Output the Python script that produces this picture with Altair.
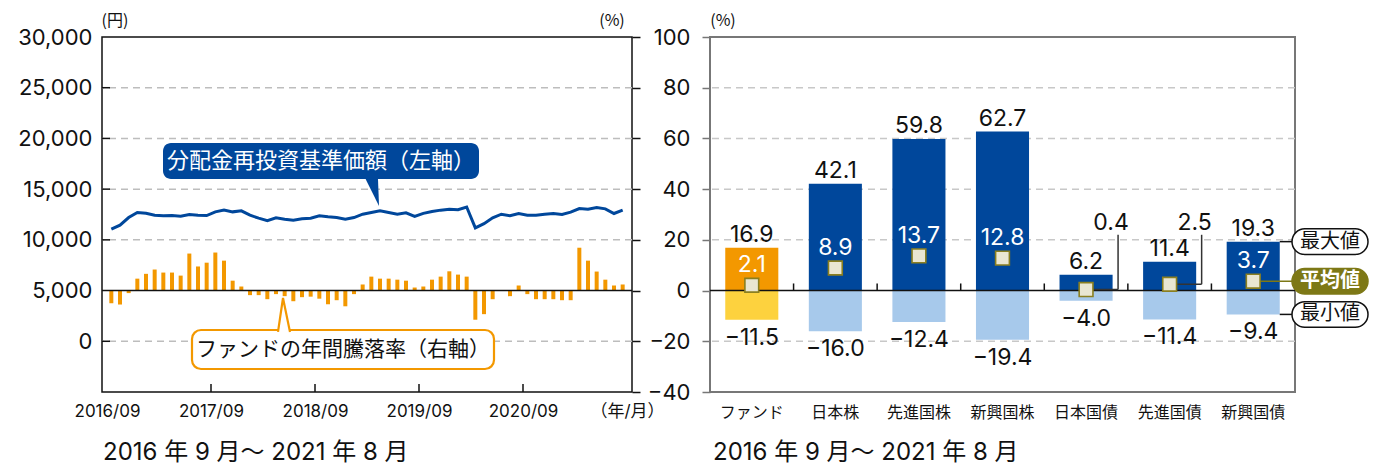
import json
import altair as alt
import pandas as pd

# ---------------- Left panel data ----------------
nav = [11050, 11450, 12200, 12700, 12630, 12430, 12370, 12400, 12340, 12500,
       12430, 12400, 12760, 12930, 12760, 12860, 12430, 12140, 11880, 12170,
       12040, 11940, 12070, 12140, 12370, 12270, 12200, 12040, 12200, 12530,
       12700, 12860, 12700, 12530, 12660, 12320, 12610, 12800, 12930, 13010,
       12980, 13240, 11180, 11600, 12170, 12530, 12370, 12600, 12430, 12430,
       12530, 12600, 12500, 12730, 13090, 13030, 13190, 13060, 12600, 12930]
ret = [-5.0, -5.5, -1.0, 4.7, 6.6, 8.3, 7.1, 7.1, 5.9, 14.6,
       9.5, 11.0, 15.0, 11.8, 3.9, 1.6, -1.8, -1.8, -3.4, -1.4,
       -2.2, -4.2, -2.6, -2.4, -3.2, -5.4, -3.8, -6.2, -1.4, 2.4,
       5.5, 4.7, 4.7, 4.3, 3.9, 1.2, 1.6, 4.3, 5.5, 7.6,
       6.3, 5.5, -11.5, -9.3, -3.4, 0.0, -2.2, 2.0, -1.4, -3.4,
       -3.4, -3.4, -3.8, -3.8, 16.9, 11.8, 7.5, 4.3, 2.0, 2.4]
x_ticks = [0, 12, 24, 36, 48, 60]
x_tick_labels = ["2016/09", "2017/09", "2018/09", "2019/09", "2020/09", "（年/月）"]
yen_ticks = [0, 5000, 10000, 15000, 20000, 25000, 30000]
yen_grid = [0, 10000, 15000, 20000, 25000]
pct_ticks = [-40, -20, 0, 20, 40, 60, 80, 100]
pct_grid = [-20, 20, 40, 60, 80]

# ---------------- Right panel data ----------------
cats = ["ファンド", "日本株", "先進国株", "新興国株", "日本国債", "先進国債", "新興国債"]
max_v = [16.9, 42.1, 59.8, 62.7, 6.2, 11.4, 19.3]
avg_v = [2.1, 8.9, 13.7, 12.8, 0.4, 2.5, 3.7]
min_v = [-11.5, -16.0, -12.4, -19.4, -4.0, -11.4, -9.4]
avg_inside = [True, True, True, True, False, False, True]
period = "2016 年 9 月〜 2021 年 8 月"

# ---------------- style ----------------
JP = "Noto Sans CJK JP"
NUM = "Inter, Noto Sans CJK JP"
TXT = "#111111"
NAVY = "#00479b"
ORANGE = "#f39800"
YELLOW = "#fdd23e"
LIGHT = "#a7c9eb"
OLIVE = "#7d7816"
BEIGE = "#e9e6d2"
GRID = "#bdbdbd"
W1, W2, H = 530, 585, 355

# ================= LEFT PANEL =================
ldf = pd.DataFrame({"m": [i + 0.5 for i in range(len(nav))], "nav": nav, "ret": ret})

x_axis = alt.Axis(values=x_ticks, ticks=False, domain=False, grid=False,
                  labelExpr=json.dumps(x_tick_labels, ensure_ascii=False) + "[round(datum.value/12)]",
                  labelFont=NUM, labelFontSize=17, labelPadding=11, labelColor=TXT,
                  labelFlush=False, labelOverlap=False, title=None)


def xL(f):
    return alt.X(f"{f}:Q", scale=alt.Scale(domain=[0, 60], nice=False, zero=False), axis=x_axis)


yen_axis = alt.Axis(orient="left", values=yen_ticks, ticks=False, domain=False,
                    labelExpr="format(datum.value, ',')",
                    grid=False, labelFont=NUM, labelFontSize=22, labelPadding=10,
                    labelColor=TXT, labelFlush=False, labelOverlap=False, title=None)
pctL_axis = alt.Axis(orient="right", values=pct_ticks, labels=False, ticks=True, tickSize=8,
                     tickColor=TXT, tickWidth=1.5, domain=False, grid=False, title=None)


def yYen(f):
    return alt.Y(f"{f}:Q", scale=alt.Scale(domain=[-5000, 30000], nice=False, zero=False), axis=yen_axis)


def yPctL(f):
    return alt.Y(f"{f}:Q", scale=alt.Scale(domain=[-40, 100], nice=False, zero=False), axis=pctL_axis)


gdf = pd.DataFrame({"v": yen_grid})
grid_l = alt.Chart(gdf).mark_rule(color=GRID, strokeWidth=1.5, strokeDash=[7, 5]).encode(y=yYen("v"))
lticks = alt.Chart(gdf).mark_rule(color=TXT, strokeWidth=1.5).encode(
    y=yYen("v"), x=alt.value(0), x2=alt.value(8))
nav_line = alt.Chart(ldf).mark_line(color=NAVY, strokeWidth=3).encode(x=xL("m"), y=yYen("nav"))
yen_group = alt.layer(grid_l, lticks, nav_line)

bars = alt.Chart(ldf).mark_bar(size=4, color=ORANGE).encode(x=xL("m"), y=yPctL("ret"))
zero_l = alt.Chart(pd.DataFrame({"v": [0]})).mark_rule(color=TXT, strokeWidth=1.5).encode(y=yPctL("v"))
pct_group = alt.layer(bars, zero_l)

bticks = alt.Chart(pd.DataFrame({"m": x_ticks[1:-1]})).mark_rule(color=TXT, strokeWidth=1.5).encode(
    x=xL("m"), y=alt.value(H), y2=alt.value(H - 8))

one = pd.DataFrame({"a": [0]})


def text(t, x, y, size, color=TXT, font=JP, align="center", baseline="middle", weight="normal"):
    return alt.Chart(pd.DataFrame({"t": [t]})).mark_text(
        align=align, baseline=baseline, fontSize=size, font=font, color=color, fontWeight=weight
    ).encode(x=alt.value(x), y=alt.value(y), text="t:N")


# blue callout
blue_box = alt.Chart(one).mark_rect(color=NAVY, cornerRadius=8).encode(
    x=alt.value(61), x2=alt.value(377), y=alt.value(106), y2=alt.value(142))
blue_ptr = alt.Chart(one).mark_point(
    shape="M -0.52 -1.1 L 0.44 -1.1 L 0.52 1 Z", size=729, filled=True, fill=NAVY,
    strokeWidth=0, opacity=1).encode(x=alt.value(270), y=alt.value(155.5))
blue_txt = text("分配金再投資基準価額（左軸）", 219, 124, 22, color="white")

# orange callout
or_box = alt.Chart(one).mark_rect(fill="white", stroke=ORANGE, strokeWidth=2.2, cornerRadius=9).encode(
    x=alt.value(90), x2=alt.value(392), y=alt.value(293), y2=alt.value(332))
or_ptr = alt.Chart(one).mark_point(
    shape="M -0.375 1.12 L -0.0625 -1 L 0.375 1.12", size=1024, filled=False, fill="white",
    fillOpacity=1, stroke=ORANGE, strokeWidth=2.2, opacity=1).encode(x=alt.value(182), y=alt.value(277))
or_txt = text("ファンドの年間騰落率（右軸）", 241, 313, 21)

left = alt.layer(
    yen_group, pct_group, bticks,
    blue_box, blue_ptr, blue_txt, or_box, or_ptr, or_txt,
    text("(円)", 13, -16, 16), text("(%)", 510, -16, 16),
    text(period, 1, 416, 24, font=NUM, align="left"),
).resolve_scale(y="independent").properties(
    width=W1, height=H, view=alt.ViewBackground(stroke=TXT, strokeWidth=1.5))

# ================= RIGHT PANEL =================
rdf = pd.DataFrame({"cat": cats, "max": max_v, "avg": avg_v, "min": min_v})
rdf["maxlab"] = [f"{v:.1f}" for v in max_v]
rdf["minlab"] = [f"{v:.1f}".replace("-", "\u2212") for v in min_v]
rdf["avglab"] = [f"{v:.1f}" for v in avg_v]
rdf["maxcol"] = [ORANGE] + [NAVY] * (len(cats) - 1)
rdf["mincol"] = [YELLOW] + [LIGHT] * (len(cats) - 1)
rdf["inside"] = avg_inside

cat_axis = alt.Axis(ticks=False, domain=False, grid=False, labelFont=JP, labelFontSize=16,
                    labelPadding=12, labelAngle=0, labelColor=TXT, title=None)
pctR_axis = alt.Axis(orient="left", values=pct_ticks, tickSize=8, tickColor="#777777", tickWidth=1.5,
                     labelFont=NUM, labelFontSize=22, labelPadding=12, labelColor=TXT,
                     labelExpr="replace(datum.label, '-', '\u2212')", domain=False, grid=False,
                     labelFlush=False, labelOverlap=False, title=None)


def xR(band=None):
    kw = {} if band is None else {"bandPosition": band}
    return alt.X("cat:N", sort=cats, scale=alt.Scale(paddingInner=0, paddingOuter=0), axis=cat_axis, **kw)


def yR(f):
    return alt.Y(f"{f}:Q", scale=alt.Scale(domain=[-40, 100], nice=False, zero=False), axis=pctR_axis)


grid_r = alt.Chart(pd.DataFrame({"v": pct_grid})).mark_rule(
    color="#c8c8c8", strokeWidth=1.5, strokeDash=[7, 5]).encode(y=yR("v"))
bw = alt.RelativeBandSize(0.635)
max_bars = alt.Chart(rdf).mark_bar(width=bw).encode(
    x=xR(), y=yR("max"), y2=alt.datum(0), color=alt.Color("maxcol:N", scale=None))
min_bars = alt.Chart(rdf).mark_bar(width=bw).encode(
    x=xR(), y=yR("min"), y2=alt.datum(0), color=alt.Color("mincol:N", scale=None))
zero_r = alt.Chart(pd.DataFrame({"v": [0]})).mark_rule(color=TXT, strokeWidth=1.5).encode(y=yR("v"))
sep_ticks = alt.Chart(rdf.iloc[:-1]).mark_rule(color=TXT, strokeWidth=1.5).encode(
    x=xR(1), y=alt.datum(0), y2=alt.datum(2.8))

band_px = W2 / len(cats)
out_layers = []
for i, row in rdf[~rdf["inside"]].iterrows():
    c = (i + 0.5) * band_px
    d1 = pd.DataFrame({"avg": [row["avg"]], "top": [22.0], "t": [row["avglab"]]})
    out_layers.append(alt.Chart(d1).mark_rule(color="#333333", strokeWidth=1.5).encode(
        x=alt.value(c), x2=alt.value(c + 32), y=yR("avg")))
    out_layers.append(alt.Chart(d1).mark_rule(color="#333333", strokeWidth=1.5).encode(
        x=alt.value(c + 32), y=yR("avg"), y2=alt.Y2("top:Q")))
    out_layers.append(alt.Chart(d1).mark_text(
        font=NUM, fontSize=23, color=TXT, baseline="alphabetic", dy=-5).encode(
        x=alt.value(c + 25), y=yR("top"), text="t:N"))

last = rdf.iloc[[-1]]
cl = (len(cats) - 0.5) * band_px
half = 0.635 * band_px / 2
leg_max = alt.Chart(last).mark_rule(color=TXT, strokeWidth=1.5).encode(
    x=alt.value(cl + half), x2=alt.value(582), y=yR("max"))
leg_avg = alt.Chart(last).mark_rule(color=OLIVE, strokeWidth=1.5).encode(
    x=alt.value(cl), x2=alt.value(582), y=yR("avg"))
leg_min = alt.Chart(last).mark_rule(color=TXT, strokeWidth=1.5).encode(
    x=alt.value(cl + half), x2=alt.value(582), y=yR("min"))

squares = alt.Chart(rdf).mark_square(size=190, fill=BEIGE, stroke="#8a7f20", strokeWidth=1.6,
                                     opacity=1).encode(x=xR(), y=yR("avg"))
max_lab = alt.Chart(rdf).mark_text(font=NUM, fontSize=23, color=TXT, baseline="alphabetic", dy=-6).encode(
    x=xR(), y=yR("max"), text="maxlab:N")
min_lab = alt.Chart(rdf).mark_text(font=NUM, fontSize=23, color=TXT, baseline="alphabetic", dy=25).encode(
    x=xR(), y=yR("min"), text="minlab:N")
avg_lab = alt.Chart(rdf[rdf["inside"]]).mark_text(
    font=NUM, fontSize=23, color="white", baseline="alphabetic", dy=-13).encode(
    x=xR(), y=yR("avg"), text="avglab:N")

PILL = ("M -0.664 -0.336 L 0.664 -0.336 A 0.336 0.336 0 0 1 0.664 0.336 "
        "L -0.664 0.336 A 0.336 0.336 0 0 1 -0.664 -0.336 Z")
pill_layers = []
for f, lab, fill, tcol, scol, wt in [("max", "最大値", "white", TXT, TXT, "normal"),
                                     ("avg", "平均値", OLIVE, "white", OLIVE, "bold"),
                                     ("min", "最小値", "white", TXT, TXT, "normal")]:
    d = pd.DataFrame({"v": [float(last[f].iloc[0])], "t": [lab]})
    pill_layers.append(alt.Chart(d).mark_point(
        shape=PILL, size=5776, filled=True, fill=fill, stroke=scol, strokeWidth=1.5, opacity=1).encode(
        x=alt.value(620), y=yR("v")))
    pill_layers.append(alt.Chart(d).mark_text(font=JP, fontSize=20, color=tcol, baseline="middle",
                                              fontWeight=wt).encode(
        x=alt.value(620), y=yR("v"), text="t:N"))

right = alt.layer(
    grid_r, max_bars, min_bars, zero_r, sep_ticks, *out_layers,
    leg_max, leg_avg, leg_min, squares, max_lab, min_lab, avg_lab, *pill_layers,
    text("(%)", 13, -16, 16), text(period, 3, 416, 24, font=NUM, align="left"),
).properties(width=W2, height=H, view=alt.ViewBackground(stroke="#777777", strokeWidth=2))

chart = alt.hconcat(left, right, spacing=78, bounds="flush").properties(
    autosize=alt.AutoSizeParams(type="none"),
    padding={"left": 94, "top": 29, "right": 1274, "bottom": 423},
).configure(font=JP)

chart.save("out.html", embed_options={"renderer": "svg", "actions": False})
